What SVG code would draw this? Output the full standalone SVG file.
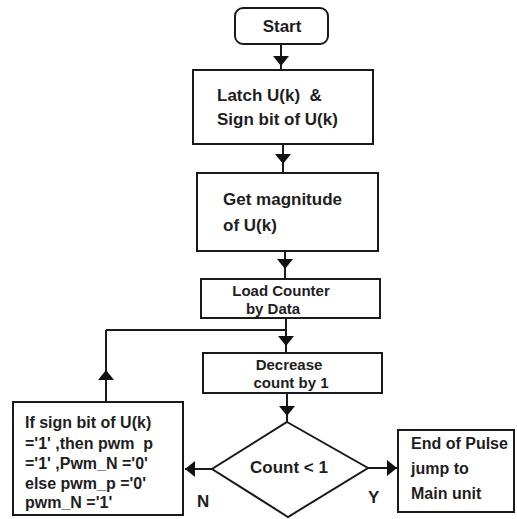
<svg xmlns="http://www.w3.org/2000/svg" width="517" height="519" viewBox="0 0 517 519">
<style>
.box{fill:#fff;stroke:#1a1a1a;stroke-width:2}
.t{font-family:"Liberation Sans",Arial,sans-serif;font-weight:bold;font-size:17px;fill:#1e1e1e}
.s{font-size:15px}
.m{font-size:16px}
.c{text-anchor:middle}
.ln{fill:none;stroke:#1a1a1a;stroke-width:2}
</style>
<defs>
<marker id="ah" viewBox="0 0 10 16" refX="10" refY="8" markerWidth="10" markerHeight="16" markerUnits="userSpaceOnUse" orient="auto">
<path d="M0,0 L10,8 L0,16 Z" fill="#111"/>
</marker>
</defs>
<rect width="517" height="519" fill="#fff"/>
<g id="connectors">
<path class="ln" d="M281,44 L281,66 L281,70" marker-mid="url(#ah)"/>
<path class="ln" d="M283,144 L283,164 L283,173" marker-mid="url(#ah)"/>
<path class="ln" d="M285,251 L285,269 L285,279" marker-mid="url(#ah)"/>
<path class="ln" d="M286,318 L286,346 L286,353" marker-mid="url(#ah)"/>
<path class="ln" d="M287,393 L287,416 L287,422" marker-mid="url(#ah)"/>
<path class="ln" d="M212,469 L185,469" marker-end="url(#ah)"/>
<path class="ln" d="M368,468 L397,468" marker-end="url(#ah)"/>
<path class="ln" d="M106,402 L106,370 L106,330" marker-mid="url(#ah)"/>
<path class="ln" d="M106,330 L286,330"/>
</g>
<g id="start">
<rect class="box" x="235" y="8" width="93" height="36" rx="8"/>
<text class="t c" x="282" y="32">Start</text>
</g>
<g id="latch">
<rect class="box" x="193" y="70" width="180" height="74"/>
<text class="t" x="217" y="101" xml:space="preserve">Latch U(k)  &amp;</text>
<text class="t" x="217" y="125">Sign bit of U(k)</text>
</g>
<g id="magnitude">
<rect class="box" x="197" y="173" width="181" height="78"/>
<text class="t" x="223" y="205">Get magnitude</text>
<text class="t" x="223" y="231">of U(k)</text>
</g>
<g id="load">
<rect class="box" x="201" y="279" width="179" height="39"/>
<text class="t s c" x="281" y="296">Load Counter</text>
<text class="t s c" x="273" y="314">by Data</text>
</g>
<g id="decrease">
<rect class="box" x="203" y="353" width="179" height="40"/>
<text class="t s c" x="289" y="370">Decrease</text>
<text class="t s c" x="291" y="388">count by 1</text>
</g>
<g id="decision">
<polygon class="box" points="287,422 368,468 288,517 212,469"/>
<text class="t c" x="289" y="473">Count &lt; 1</text>
<text class="t" x="197" y="507">N</text>
<text class="t" x="368" y="503">Y</text>
</g>
<g id="sign-output">
<rect class="box" x="13" y="402" width="170" height="113"/>
<text class="t m" x="25" y="428">If sign bit of U(k)</text>
<text class="t m" x="25" y="449" xml:space="preserve">='1' ,then pwm  p</text>
<text class="t m" x="25" y="469">='1' ,Pwm_N ='0'</text>
<text class="t m" x="25" y="489">else pwm_p ='0'</text>
<text class="t m" x="25" y="508">pwm_N ='1'</text>
</g>
<g id="end">
<rect class="box" x="398" y="430" width="116" height="82"/>
<text class="t m" x="411" y="449">End of Pulse</text>
<text class="t m" x="411" y="474">jump to</text>
<text class="t m" x="411" y="499">Main unit</text>
</g>
</svg>
